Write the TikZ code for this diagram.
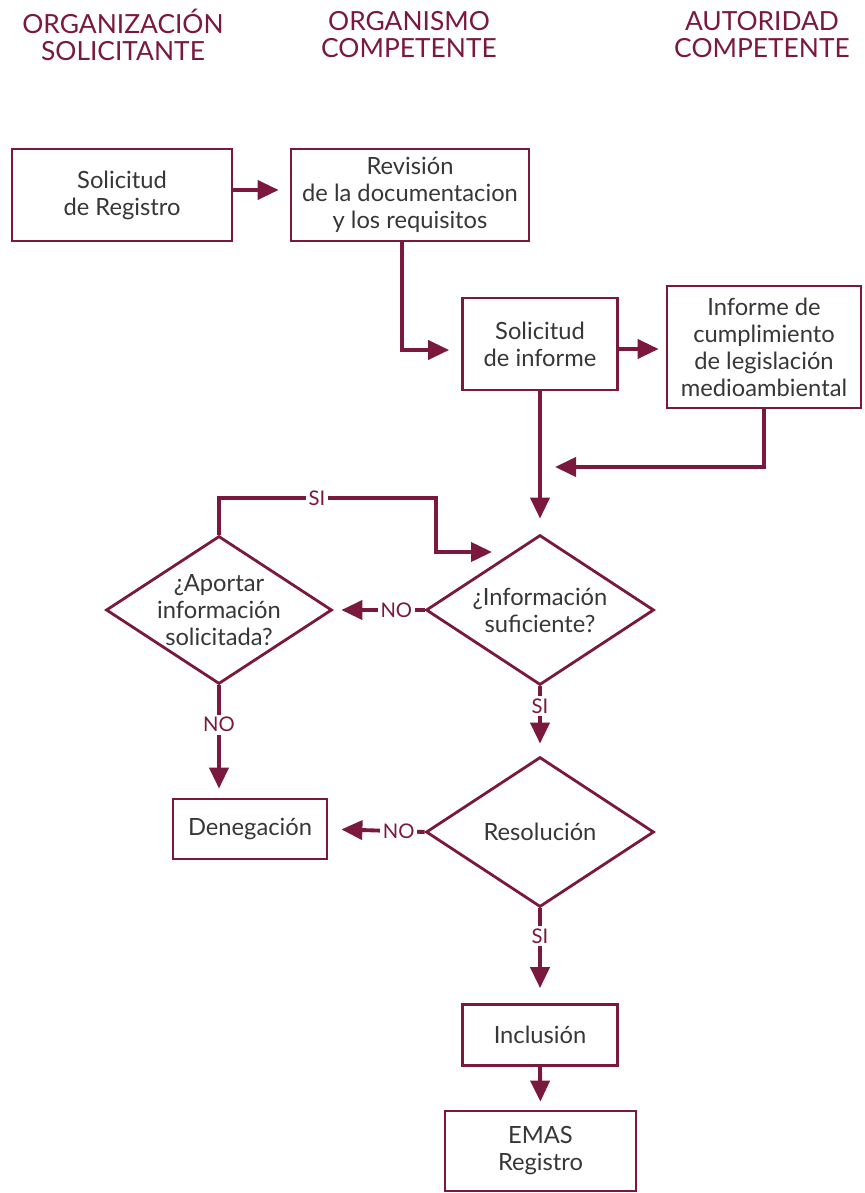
\documentclass[tikz,border=0pt]{standalone}
\usepackage{fontspec}
\setmainfont{Lato}
\usetikzlibrary{shapes.geometric,arrows.meta}
\definecolor{emasred}{RGB}{122,24,62}
\definecolor{emastext}{RGB}{55,55,55}
\tikzset{
  box/.style={draw=emasred, line width=1.6pt, fill=white, text=emastext, align=center, inner sep=2pt, font=\fontsize{13.5}{15.4}\selectfont},
  decision/.style={box, diamond, aspect=1.52, inner sep=-0.2cm},
  header/.style={text=emasred, align=center, font=\fontsize{15}{15.4}\selectfont},
  flow/.style={draw=emasred, line width=2.2pt, -{Triangle[length=0.42cm,width=0.38cm]}},
  answer/.style={fill=white, text=emasred, inner sep=1.5pt, font=\fontsize{11.5}{13}\selectfont}
}
\begin{document}
\begin{tikzpicture}[x=0.02cm, y=-0.02cm]
\useasboundingbox (0,0) rectangle (865,1193);

\node[header] (orgsol) at (123,35) {ORGANIZACIÓN\\SOLICITANTE};
\node[header] (orgcomp) at (409,35) {ORGANISMO\\COMPETENTE};
\node[header] (autcomp) at (762,35) {AUTORIDAD\\COMPETENTE};

\node[box, minimum width=4.4cm, minimum height=1.84cm] (registro) at (122,195) {Solicitud\\de Registro};
\node[box, minimum width=4.76cm, minimum height=1.84cm] (revision) at (410,195) {Revisión\\de la documentacion\\y los requisitos};
\node[box, minimum width=3.1cm, minimum height=1.84cm] (informe) at (540,344) {Solicitud\\de informe};
\node[box, minimum width=3.88cm, minimum height=2.44cm] (legislacion) at (764,347) {Informe de\\cumplimiento\\de legislación\\medioambiental};
\node[decision, minimum width=4.56cm, minimum height=3cm] (suficiente) at (540,610) {¿Información\\suficiente?};
\node[decision, minimum width=4.52cm, minimum height=2.96cm] (aportar) at (219,610) {¿Aportar\\información\\solicitada?};
\node[box, minimum width=3.08cm, minimum height=1.2cm] (denegacion) at (250,829) {Denegación};
\node[decision, minimum width=4.56cm, minimum height=3cm] (resolucion) at (540,832) {Resolución};
\node[box, minimum width=3.1cm, minimum height=1.22cm] (inclusion) at (540,1035) {Inclusión};
\node[box, minimum width=3.82cm, minimum height=1.6cm] (emas) at (540.5,1151) {EMAS\\Registro};

\coordinate (merge) at (540,467);
\coordinate (siturn) at (436,498);
\coordinate (sitip) at (492,552);

\draw[flow, shorten >=0.22cm] ([yshift=0.1cm]registro.east) -- ([yshift=0.1cm]revision.west);
\draw[flow, shorten >=0.24cm] ([xshift=-0.16cm]revision.south) |- ([yshift=-0.12cm]informe.west);
\draw[flow, shorten >=0.14cm] ([yshift=-0.1cm]informe.east) -- ([yshift=-0.1cm]informe.east -| legislacion.west);
\draw[flow, shorten >=0.3cm] (legislacion.south) |- (merge);
\draw[flow, shorten >=0.3cm] (informe.south) -- (suficiente.north);
\draw[flow, shorten >=0.16cm] (suficiente.west) -- node[answer, pos=0.31] {NO} (aportar.east);
\draw[flow] (aportar.north) |- (siturn) |- (sitip);
\node[answer] (silabel) at (317,498) {SI};
\draw[flow, shorten >=0.24cm] (suficiente.south) -- node[answer, pos=0.28] {SI} (resolucion.north);
\draw[flow, shorten >=0.18cm] (aportar.south) -- node[answer, pos=0.35] {NO} (aportar.south |- denegacion.north);
\draw[flow, shorten >=0.26cm] (resolucion.west) -- node[answer, pos=0.27] {NO} (denegacion.east);
\draw[flow, shorten >=0.3cm] (resolucion.south) -- node[answer, pos=0.29] {SI} (inclusion.north);
\draw[flow, shorten >=0.16cm] (inclusion.south) -- (emas.north);
\end{tikzpicture}
\end{document}
